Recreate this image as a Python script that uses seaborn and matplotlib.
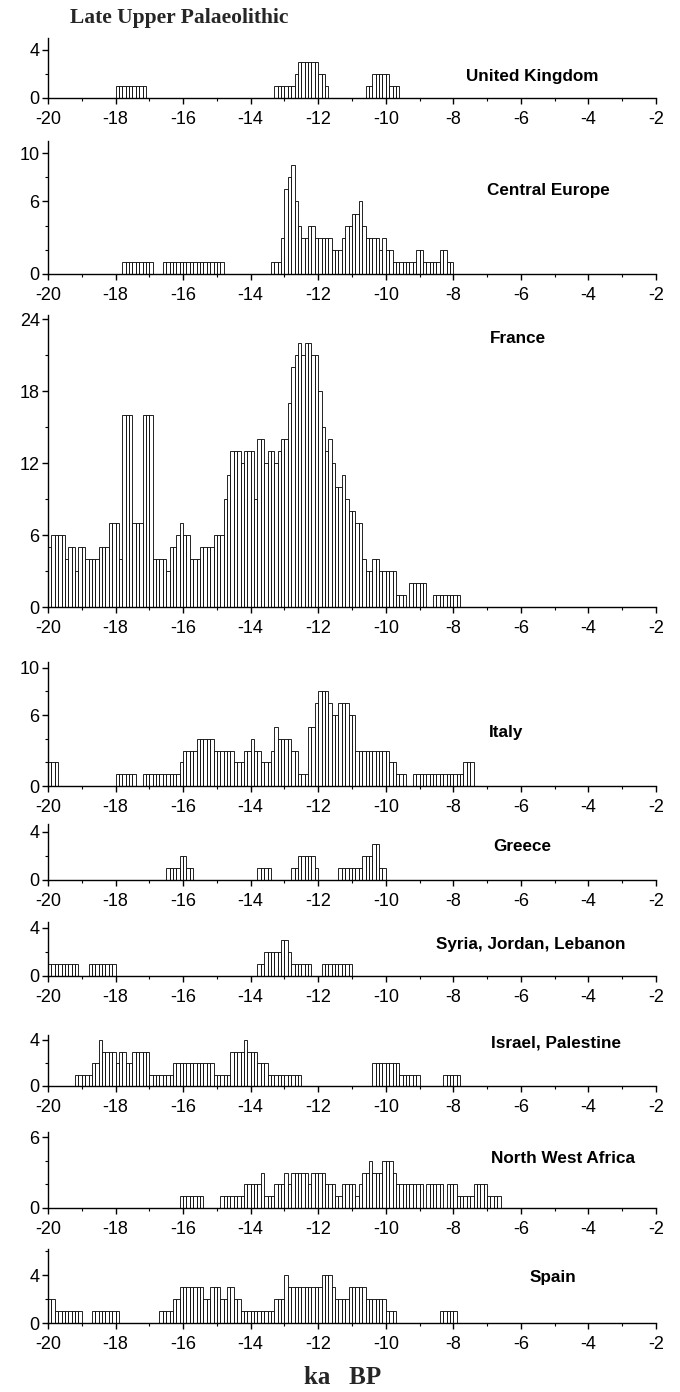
import numpy as np
import pandas as pd
import matplotlib
matplotlib.use("Agg")
import matplotlib.pyplot as plt
import seaborn as sns

# ---------------- data: counts per 0.1 ka bin, starting at the given age ----------------
BIN_KA = 0.1

uk_start = -18.0
uk_counts = [1, 1, 1, 1, 1, 1, 1, 1, 1, 0,
             0, 0, 0, 0, 0, 0, 0, 0, 0, 0,
             0, 0, 0, 0, 0, 0, 0, 0, 0, 0,
             0, 0, 0, 0, 0, 0, 0, 0, 0, 0,
             0, 0, 0, 0, 0, 0, 0, 1, 1, 1,
             1, 1, 1, 2, 3, 3, 3, 3, 3, 3,
             2, 2, 1, 0, 0, 0, 0, 0, 0, 0,
             0, 0, 0, 0, 1, 1, 2, 2, 2, 2,
             2, 1, 1, 1]

ce_start = -17.8
ce_counts = [1, 1, 1, 1, 1, 1, 1, 1, 1, 0,
             0, 0, 1, 1, 1, 1, 1, 1, 1, 1,
             1, 1, 1, 1, 1, 1, 1, 1, 1, 1,
             0, 0, 0, 0, 0, 0, 0, 0, 0, 0,
             0, 0, 0, 0, 1, 1, 1, 3, 7, 8,
             9, 6, 4, 3, 3, 4, 4, 3, 3, 3,
             3, 3, 2, 2, 2, 3, 4, 4, 5, 5,
             6, 4, 3, 3, 3, 3, 2, 3, 2, 2,
             1, 1, 1, 1, 1, 1, 1, 2, 2, 1,
             1, 1, 1, 1, 2, 2, 1, 1]

fr_start = -20.0
fr_counts = [5, 6, 6, 6, 6, 4, 5, 5, 3, 5,
             5, 4, 4, 4, 4, 5, 5, 5, 7, 7,
             7, 4, 16, 16, 16, 7, 7, 7, 16, 16,
             16, 4, 4, 4, 4, 3, 5, 5, 6, 7,
             6, 6, 4, 4, 4, 5, 5, 5, 5, 6,
             6, 6, 9, 11, 13, 13, 13, 12, 13, 13,
             13, 9, 14, 14, 12, 13, 13, 12, 13, 14,
             14, 17, 20, 21, 22, 21, 22, 22, 21, 21,
             18, 15, 13, 14, 12, 10, 10, 11, 9, 8,
             8, 7, 7, 4, 3, 3, 4, 4, 3, 3,
             3, 3, 3, 1, 1, 1, 0, 2, 2, 2,
             2, 2, 0, 0, 1, 1, 1, 1, 1, 1,
             1, 1]

it_start = -20.0
it_counts = [2, 2, 2, 0, 0, 0, 0, 0, 0, 0,
             0, 0, 0, 0, 0, 0, 0, 0, 0, 0,
             1, 1, 1, 1, 1, 1, 0, 0, 1, 1,
             1, 1, 1, 1, 1, 1, 1, 1, 1, 2,
             3, 3, 3, 3, 4, 4, 4, 4, 4, 3,
             3, 3, 3, 3, 3, 2, 2, 2, 3, 3,
             4, 3, 3, 2, 2, 2, 3, 5, 4, 4,
             4, 4, 3, 3, 1, 1, 1, 5, 5, 7,
             8, 8, 8, 7, 6, 6, 7, 7, 7, 6,
             6, 3, 3, 3, 3, 3, 3, 3, 3, 3,
             3, 2, 2, 1, 1, 1, 0, 0, 1, 1,
             1, 1, 1, 1, 1, 1, 1, 1, 1, 1,
             1, 1, 1, 2, 2, 2]

gr_start = -16.5
gr_counts = [1, 1, 1, 1, 2, 2, 1, 1,
             0, 0, 0, 0, 0, 0, 0, 0, 0, 0,
             0, 0, 0, 0, 0, 0, 0, 0, 0,
             1, 1, 1, 1,
             0, 0, 0, 0, 0, 0,
             1, 1, 2, 2, 2, 2, 2, 1,
             0, 0, 0, 0, 0, 0,
             1, 1, 1, 1, 1, 1, 1,
             2, 2, 2, 3, 3, 1, 1]

sy_start = -20.0
sy_counts = [1, 1, 1, 1, 1, 1, 1, 1, 1, 0,
             0, 0, 1, 1, 1, 1, 1, 1, 1, 1,
             0, 0, 0, 0, 0, 0, 0, 0, 0, 0,
             0, 0, 0, 0, 0, 0, 0, 0, 0, 0,
             0, 0, 0, 0, 0, 0, 0, 0, 0, 0,
             0, 0, 0, 0, 0, 0, 0, 0, 0, 0,
             0, 0, 1, 1, 2, 2, 2, 2, 2, 3,
             3, 2, 1, 1, 1, 1, 1, 1, 0, 0,
             0, 1, 1, 1, 1, 1, 1, 1, 1, 1]

il_start = -19.2
il_counts = [1, 1, 1, 1, 1, 2, 2, 4, 3, 3,
             3, 3, 2, 3, 3, 2, 2, 3, 3, 3,
             3, 3, 1, 1, 1, 1, 1, 1, 1, 2,
             2, 2, 2, 2, 2, 2, 2, 2, 2, 2,
             2, 1, 1, 1, 1, 1, 3, 3, 3, 3,
             4, 3, 3, 3, 2, 2, 2, 1, 1, 1,
             1, 1, 1, 1, 1, 1, 1, 0, 0, 0,
             0, 0, 0, 0, 0, 0, 0, 0, 0, 0,
             0, 0, 0, 0, 0, 0, 0, 0, 2, 2,
             2, 2, 2, 2, 2, 2, 1, 1, 1, 1,
             1, 1, 0, 0, 0, 0, 0, 0, 0, 1,
             1, 1, 1, 1]

nwa_start = -16.1
nwa_counts = [1, 1, 1, 1, 1, 1, 1, 0, 0, 0,
              0, 0, 1, 1, 1, 1, 1, 1, 1, 2,
              2, 2, 2, 2, 3, 1, 1, 1, 2, 2,
              2, 3, 2, 3, 3, 3, 3, 3, 2, 3,
              3, 3, 3, 2, 2, 2, 1, 1, 2, 2,
              2, 2, 1, 2, 3, 3, 4, 3, 3, 3,
              4, 4, 4, 3, 2, 2, 2, 2, 2, 2,
              2, 2, 0, 2, 2, 2, 2, 2, 0, 2,
              2, 2, 1, 1, 1, 1, 1, 2, 2, 2,
              2, 1, 1, 1, 1]

sp_start = -20.0
sp_counts = [2, 2, 1, 1, 1, 1, 1, 1, 1, 1,
             0, 0, 0, 1, 1, 1, 1, 1, 1, 1,
             1, 0, 0, 0, 0, 0, 0, 0, 0, 0,
             0, 0, 0, 1, 1, 1, 1, 2, 2, 3,
             3, 3, 3, 3, 3, 3, 2, 2, 3, 3,
             3, 2, 2, 3, 3, 2, 2, 1, 1, 1,
             1, 1, 1, 1, 1, 1, 1, 2, 2, 2,
             4, 3, 3, 3, 3, 3, 3, 3, 3, 3,
             3, 4, 4, 4, 3, 2, 2, 2, 2, 3,
             3, 3, 3, 3, 2, 2, 2, 2, 2, 2,
             1, 1, 1, 0, 0, 0, 0, 0, 0, 0,
             0, 0, 0, 0, 0, 0, 1, 1, 1, 1,
             1]

region_names = ["United Kingdom", "Central Europe", "France", "Italy", "Greece",
                "Syria, Jordan, Lebanon", "Israel, Palestine", "North West Africa", "Spain"]
x_ticks = [-20, -18, -16, -14, -12, -10, -8, -6, -4, -2]

# ---------------- layout / style ----------------
sns.set_theme(style="ticks")
plt.rcParams['font.family'] = ['Liberation Sans', 'DejaVu Sans']
plt.rcParams['axes.unicode_minus'] = False

W, H = 680, 1392
fig = plt.figure(figsize=(W / 100, H / 100), dpi=100)
fig.patch.set_facecolor("white")

X_LEFT, X_RIGHT = 48, 656

# (start, counts, zero_px, px_per_unit, ytop, major, minor, label_x, label_y)
panels = [
    (uk_start, uk_counts, 98, 12.0, 5.0, [0, 4], [2], -5.65, 1.8),
    (ce_start, ce_counts, 274, 12.1, 11.0, [0, 6, 10], [2, 4, 8], -5.2, 6.9),
    (fr_start, fr_counts, 607, 11.98, 24.4, [0, 6, 12, 18, 24], [3, 9, 15, 21], -6.1, 22.4),
    (it_start, it_counts, 786, 11.83, 10.5, [0, 6, 10], [2, 4, 8], -6.45, 4.5),
    (gr_start, gr_counts, 880, 12.0, 4.7, [0, 4], [2], -5.95, 2.8),
    (sy_start, sy_counts, 976, 12.0, 4.5, [0, 4], [2], -5.7, 2.6),
    (il_start, il_counts, 1086, 11.5, 4.4, [0, 4], [2], -4.95, 3.7),
    (nwa_start, nwa_counts, 1208, 11.8, 6.4, [0, 6], [2, 4], -4.75, 4.2),
    (sp_start, sp_counts, 1323, 12.0, 6.2, [0, 4], [2, 6], -5.05, 3.8),
]

for (start, counts, y0, ppu, ytop, major, minor, lx, ly), name in zip(panels, region_names):
    top_px = y0 - ytop * ppu
    ax = fig.add_axes([X_LEFT / W, 1 - y0 / H, (X_RIGHT - X_LEFT) / W, (y0 - top_px) / H])
    counts = np.asarray(counts, dtype=float)
    edges = start + BIN_KA * np.arange(len(counts) + 1)
    df = pd.DataFrame({"age": 0.5 * (edges[:-1] + edges[1:]), "n": counts})
    sns.histplot(data=df, x="age", weights="n", bins=list(edges), ax=ax, stat="count",
                 color="white", edgecolor="black", linewidth=0.6, alpha=1.0)
    ax.set_xlim(-20, -2)
    ax.set_ylim(0, ytop)
    ax.set_xlabel("")
    ax.set_ylabel("")
    ax.set_facecolor("none")
    ax.grid(False)
    ax.set_xticks(x_ticks)
    ax.set_xticklabels([str(t) for t in x_ticks])
    ax.set_xticks(np.arange(-19, -2, 2), minor=True)
    ax.set_yticks(major)
    ax.set_yticklabels([str(t) for t in major])
    ax.set_yticks(minor, minor=True)
    for s in ("top", "right"):
        ax.spines[s].set_visible(False)
    for s in ("left", "bottom"):
        ax.spines[s].set_linewidth(1.0)
        ax.spines[s].set_color("black")
    ax.tick_params(axis="both", which="major", direction="out", length=4, width=1,
                   labelsize=13, colors="black")
    ax.tick_params(axis="x", which="major", pad=5.5)
    ax.tick_params(axis="y", which="major", pad=2)
    ax.tick_params(axis="both", which="minor", direction="out", length=2.5, width=0.8,
                   colors="black")
    ax.text(lx, ly, name, ha="center", va="center", fontsize=12.3, fontweight="bold",
            color="black")

fig.text(70 / W, 1 - 18 / H, "Late Upper Palaeolithic", ha="left", va="center",
         fontsize=15.5, fontweight="bold", family=["Liberation Serif", "DejaVu Serif"])
fig.text(343 / W, 1 - 1377 / H, "ka   BP", ha="center", va="center",
         fontsize=18, fontweight="bold", family=["Liberation Serif", "DejaVu Serif"])

fig.savefig("out.png", dpi=100, facecolor="white")
